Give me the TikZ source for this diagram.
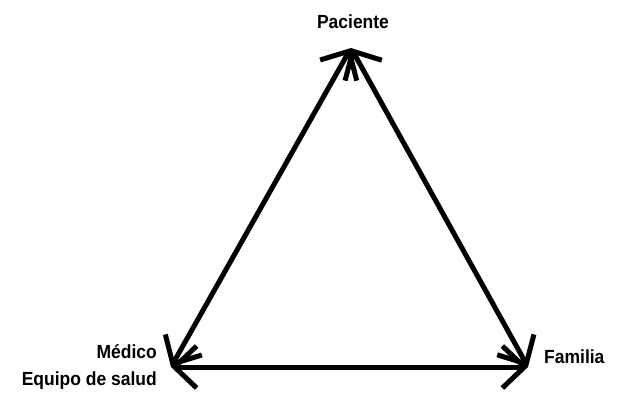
\documentclass[tikz,border=0pt]{standalone}
\usepackage{fontspec}
\setmainfont{Liberation Sans}[FakeStretch=0.92]
\usetikzlibrary{arrows.meta}
\begin{document}
\begin{tikzpicture}[x=1pt,y=-1pt,
  edge/.style={line width=5pt,{Straight Barb[length=22pt,width=42pt,line width=5pt]}-{Straight Barb[length=22pt,width=42pt,line width=5pt]}},
  lbl/.style={font=\fontsize{19}{23}\selectfont\bfseries, inner sep=0pt}]
\useasboundingbox (0,0) rectangle (617,392);
\coordinate (P) at (351,48);
\coordinate (M) at (171,367);
\coordinate (F) at (528,367);
\draw[edge] (M) -- (P);
\draw[edge] (P) -- (F);
\draw[edge] (M) -- (F);
\node[lbl, anchor=base] (tp) at (353,28) {Paciente};
\node[lbl, anchor=base east] (tm) at (157,358) {Médico};
\node[lbl, anchor=base east] (te) at (157,385) {Equipo de salud};
\node[lbl, anchor=base west] (tf) at (544,363) {Familia};
\end{tikzpicture}
\end{document}
